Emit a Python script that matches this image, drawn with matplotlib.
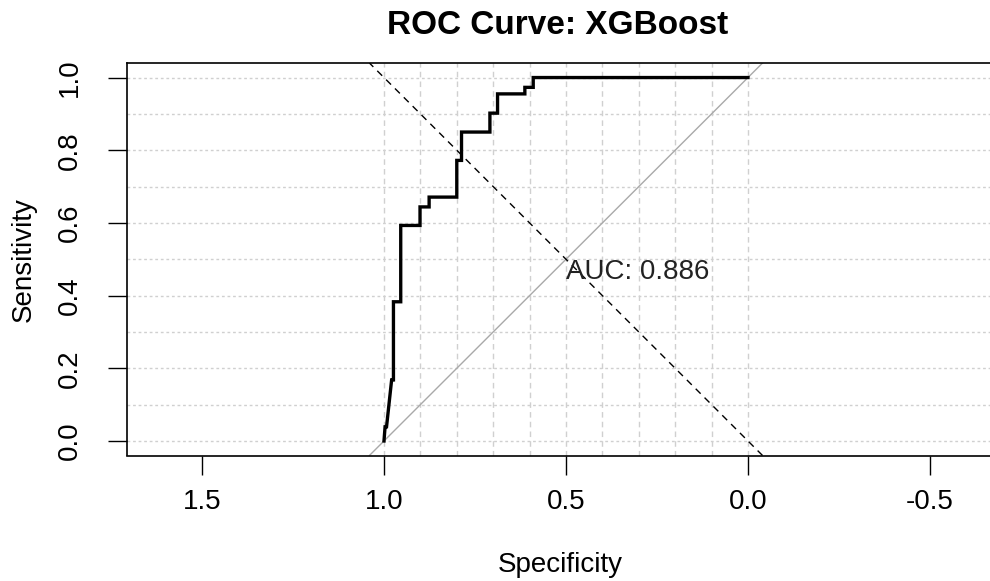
import numpy as np
import matplotlib
matplotlib.use("Agg")
import matplotlib.pyplot as plt

plt.rcParams['font.family'] = ['Liberation Sans', 'DejaVu Sans']

# ROC curve points (specificity, sensitivity)
specificity = [1.0, 0.997, 0.993, 0.988, 0.984, 0.979, 0.974, 0.974, 0.954, 0.954,
               0.901, 0.901, 0.876, 0.876, 0.800, 0.800, 0.787, 0.787, 0.709, 0.709,
               0.688, 0.688, 0.613, 0.613, 0.590, 0.590, 0.0]
sensitivity = [0.0, 0.039, 0.039, 0.085, 0.122, 0.168, 0.168, 0.383, 0.383, 0.593,
               0.593, 0.644, 0.644, 0.671, 0.671, 0.772, 0.772, 0.850, 0.850, 0.902,
               0.902, 0.955, 0.955, 0.973, 0.973, 1.0, 1.0]
auc = 0.886
x_ticks = [1.5, 1.0, 0.5, 0.0, -0.5]
y_ticks = [0.0, 0.2, 0.4, 0.6, 0.8, 1.0]
grid_vals = np.round(np.arange(0, 1.01, 0.1), 1)

fig = plt.figure(figsize=(9.9, 5.81), dpi=100)
ax = fig.add_axes([127 / 990, 1 - 455.5 / 581, 866 / 990, 392.5 / 581])

ax.set_xlim(1.706, 1.706 - 866 / 364)
ax.set_ylim(-0.04, 1.04)

gcol = '#d0d0d0'
for g in grid_vals:
    ax.axvline(g, color=gcol, lw=1, dashes=(4, 3), zorder=1)
    ax.axhline(g, color=gcol, lw=1, dashes=(2, 2), zorder=1)

ax.axline((1, 0), (0, 1), color='#a9a9a9', lw=1, zorder=2)
ax.axline((0, 0), (1, 1), color='black', lw=1, dashes=(5, 4), zorder=2)
ax.plot(specificity, sensitivity, color='black', lw=2.4, zorder=3,
        solid_joinstyle='miter')

ax.text(0.5, 0.5, f"AUC: {auc:.3f}", ha='left', va='top', fontsize=20,
        color='#222222', zorder=4)

ax.set_xticks(x_ticks)
ax.set_xticklabels([f"{v:.1f}" for v in x_ticks])
ax.set_yticks(y_ticks)
ax.set_yticklabels([f"{v:.1f}" for v in y_ticks], rotation=90, va='center')
ax.tick_params(axis='both', length=14, width=1, labelsize=20, colors='black')
ax.tick_params(axis='x', pad=10)
ax.tick_params(axis='y', pad=18)
for s in ax.spines.values():
    s.set_linewidth(1.2)
ax.spines['right'].set_visible(False)

ax.set_xlabel("Specificity", fontsize=20, labelpad=27)
ax.set_ylabel("Sensitivity", fontsize=20, labelpad=14)
fig.text(0.5 * (383 + 732) / 990, 1 - 26 / 581, "ROC Curve: XGBoost",
         ha='center', va='center', fontsize=24, fontweight='bold')

fig.savefig("out.png", dpi=100)
